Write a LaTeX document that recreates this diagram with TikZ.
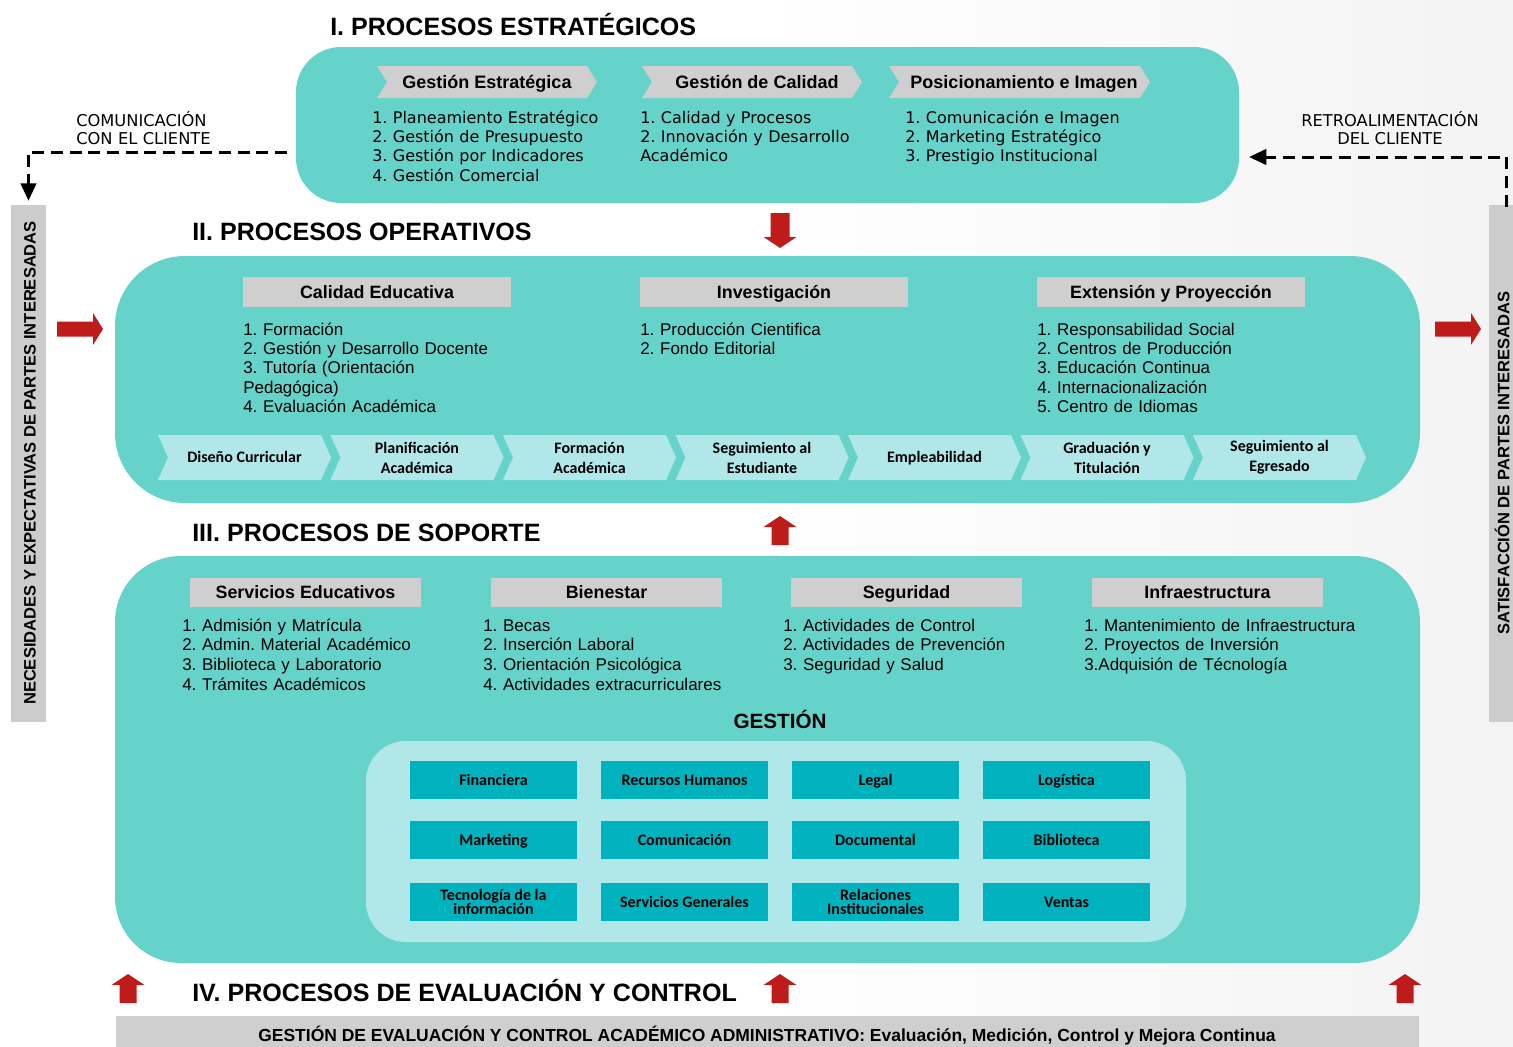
\documentclass[tikz,border=0pt]{standalone}
\usepackage{fontspec}
\setmainfont{Liberation Sans}
\newfontfamily\dvfont{DejaVu Sans}
\newfontfamily\cbfont{Carlito}
\usetikzlibrary{arrows.meta}
\frenchspacing
\definecolor{tealbox}{RGB}{102,211,202}
\definecolor{lightbox}{RGB}{177,231,233}
\definecolor{gridbox}{RGB}{0,178,189}
\definecolor{hdrgray}{RGB}{207,207,207}
\definecolor{sidegray}{RGB}{204,204,204}
\definecolor{arrred}{RGB}{190,27,27}
\definecolor{bgright}{RGB}{243,243,243}
\newcommand\fsz[2]{\fontsize{#1}{#2}\selectfont}
\newcommand\chevshape[6]{\fill[#6] (#1,#3) -- ({#2-#5},#3) -- (#2,{(#3+#4)/2}) -- ({#2-#5},#4) -- (#1,#4) -- ({#1+#5},{(#3+#4)/2}) -- cycle;}
\tikzset{
  sectitle/.style={anchor=base west, inner sep=0pt, font=\bfseries\fsz{18.8pt}{20pt}},
  procbox/.style={fill=tealbox, draw=none, inner sep=0pt},
  ophdr/.style={fill=hdrgray, inner sep=0pt, minimum width={268*0.75pt}, minimum height={30*0.75pt}, text height=11.6pt, text depth=2pt, font=\bfseries\fsz{13.4pt}{15pt}},
  suphdr/.style={ophdr, minimum width={231*0.75pt}, minimum height={29*0.75pt}},
  topchevtxt/.style={inner sep=0pt, text height=11.6pt, text depth=2pt, font=\bfseries\fsz{13.5pt}{15pt}},
  toplist/.style={anchor=base west, inner sep=0pt, text width=200pt, align=left, font=\dvfont\fsz{12pt}{14.6pt}},
  oplist/.style={anchor=base west, inner sep=0pt, text width=220pt, align=left, font=\fsz{12.75pt}{14.6pt}},
  suplist/.style={oplist, font=\fsz{12.75pt}{14.8pt}},
  chevtxt/.style={inner sep=0pt, align=center, font=\cbfont\bfseries\fsz{12pt}{15pt}},
  gridcell/.style={fill=gridbox, inner sep=0pt, minimum width={167*0.75pt}, minimum height={38*0.75pt}, align=center, font=\cbfont\bfseries\fsz{12pt}{10.5pt}},
  oneln/.style={text height=9.5pt, text depth=2pt},
  sidebar/.style={fill=sidegray, inner sep=0pt, minimum width={35*0.75pt}, minimum height={517*0.75pt}},
  sidetxt/.style={rotate=90, inner sep=0pt, font=\bfseries\fsz{12.4pt}{14pt}},
  clienttxt/.style={inner sep=0pt, text width=160pt, font=\dvfont\fsz{12.2pt}{13.5pt}},
  dasharr/.style={line width=2.25pt, dash pattern=on 9pt off 5pt, -{Triangle[length=13pt,width=11.5pt]}},
  redup/.pic={\fill[arrred] (-8.5,0) -- (-8.5,-18) -- (-16.5,-18) -- (0,-29) -- (16.5,-18) -- (8.5,-18) -- (8.5,0) -- cycle;},
  reddown/.pic={\fill[arrred] (-9.5,0) -- (9.5,0) -- (9.5,24) -- (16.5,24) -- (0,35) -- (-16.5,24) -- (-9.5,24) -- cycle;},
  redright/.pic={\fill[arrred] (0,-7.5) -- (36,-7.5) -- (36,-16) -- (46,0) -- (36,16) -- (36,7.5) -- (0,7.5) -- cycle;}
}
\begin{document}
\begin{tikzpicture}[x=0.75pt,y=-0.75pt]
\useasboundingbox (0,0) rectangle (1513,1046);
\fill[white] (0,0) rectangle (757,1046);
\shade[left color=white,right color=bgright] (756,0) rectangle (1513,1046);

% ---------- I
\node[sectitle] (t1) at (330,35) {I. PROCESOS ESTRATÉGICOS};
\node[procbox, rounded corners=33.75pt, minimum width={943*0.75pt}, minimum height={156*0.75pt}] (strat) at (767.5,125) {};
\chevshape{377}{597}{66}{98}{10}{hdrgray}
\node[topchevtxt] (ge) at (487,82) {Gestión Estratégica};
\chevshape{642}{862}{66}{98}{10}{hdrgray}
\node[topchevtxt] (gc) at (757,82) {Gestión de Calidad};
\chevshape{889}{1150}{66}{98}{10}{hdrgray}
\node[topchevtxt] (gp) at (1024,82) {Posicionamiento e Imagen};
\node[toplist] (l1) at (372,123) {1. Planeamiento Estratégico\\2. Gestión de Presupuesto\\3. Gestión por Indicadores\\4. Gestión Comercial};
\node[toplist] (l2) at (640,123) {1. Calidad y Procesos\\2. Innovación y Desarrollo\\Académico};
\node[toplist] (l3) at (905,123) {1. Comunicación e Imagen\\2. Marketing Estratégico\\3. Prestigio Institucional};

% ---------- client texts, side bars
\node[clienttxt, anchor=base west, align=left] (com) at (76,126) {COMUNICACIÓN\\CON EL CLIENTE};
\node[clienttxt, anchor=base, align=center] (retro) at (1390,126) {RETROALIMENTACIÓN\\DEL CLIENTE};
\node[sidebar] (needs) at (28.5,463.5) {};
\node[sidetxt] (needst) at (30,463) {NECESIDADES Y EXPECTATIVAS DE PARTES INTERESADAS};
\node[sidebar] (satis) at (1506.5,463.5) {};
\node[sidetxt] (satist) at (1502,463) {SATISFACCIÓN DE PARTES INTERESADAS};
\coordinate (comstart) at (287,152);
\draw[dasharr, shorten >=3pt] (comstart) -| (needs.north);
\coordinate (retroend) at (1249,157);
\draw[dasharr] ([yshift=-1.5pt]satis.north) |- (retroend);

% ---------- II
\pic at (780,213) {reddown};
\node[sectitle] (t2) at (192,240) {II. PROCESOS OPERATIVOS};
\node[procbox, rounded corners=52.5pt, minimum width={1305*0.75pt}, minimum height={247*0.75pt}] (oper) at (767.5,379.5) {};
\pic at (57,329) {redright};
\pic at (1435,329) {redright};
\node[ophdr] (h1) at (377,292) {Calidad Educativa};
\node[ophdr] (h2) at (774,292) {Investigación};
\node[ophdr] (h3) at (1171,292) {Extensión y Proyección};
\node[oplist] (ol1) at (243,335) {1. Formación\\2. Gestión y Desarrollo Docente\\3. Tutoría (Orientación\\Pedagógica)\\4. Evaluación Académica};
\node[oplist] (ol2) at (640,335) {1. Producción Cientifica\\2. Fondo Editorial};
\node[oplist] (ol3) at (1037,335) {1. Responsabilidad Social\\2. Centros de Producción\\3. Educación Continua\\4. Internacionalización\\5. Centro de Idiomas};
\foreach \t/\st [count=\i from 0] in {{Diseño Curricular}/oneln,{Planificación\\Académica}/{},{Formación\\Académica}/{},{Seguimiento al\\Estudiante}/{},{Empleabilidad}/oneln,{Graduación y\\Titulación}/{},{Seguimiento al\\Egresado}/{}}{
  \pgfmathsetmacro\xa{158+172.5*\i}
  \pgfmathsetmacro\xb{\xa+173}
  \chevshape{\xa}{\xb}{435}{480}{10}{lightbox}
  \node[chevtxt,\st] (pc\i) at ({\xa+86.5},457.5) {\t};
}

% ---------- III
\pic at (780,545) {redup};
\node[sectitle] (t3) at (192,541) {III. PROCESOS DE SOPORTE};
\node[procbox, rounded corners=49.5pt, minimum width={1305*0.75pt}, minimum height={407*0.75pt}] (sup) at (767.5,759.5) {};
\node[suphdr] (s1) at (305.5,592.5) {Servicios Educativos};
\node[suphdr] (s2) at (606.5,592.5) {Bienestar};
\node[suphdr] (s3) at (906.5,592.5) {Seguridad};
\node[suphdr] (s4) at (1207.5,592.5) {Infraestructura};
\node[suplist] (sl1) at (182,631) {1. Admisión y Matrícula\\2. Admin. Material Académico\\3. Biblioteca y Laboratorio\\4. Trámites Académicos};
\node[suplist] (sl2) at (483,631) {1. Becas\\2. Inserción Laboral\\3. Orientación Psicológica\\4. Actividades extracurriculares};
\node[suplist] (sl3) at (783,631) {1. Actividades de Control\\2. Actividades de Prevención\\3. Seguridad y Salud};
\node[suplist] (sl4) at (1084,631) {1. Mantenimiento de Infraestructura\\2. Proyectos de Inversión\\3.Adquisión de Técnología};
\node[inner sep=0pt, font=\bfseries\fsz{15.5pt}{17pt}] (gest) at (780,719) {GESTIÓN};
\node[fill=lightbox, rounded corners=30pt, minimum width={820*0.75pt}, minimum height={201*0.75pt}, inner sep=0pt] (gbox) at (776,841.5) {};
\node[gridcell,oneln] (g11) at (493.5,780) {Financiera};
\node[gridcell,oneln] (g12) at (684.5,780) {Recursos Humanos};
\node[gridcell,oneln] (g13) at (875.5,780) {Legal};
\node[gridcell,oneln] (g14) at (1066.5,780) {Logística};
\node[gridcell,oneln] (g21) at (493.5,840) {Marketing};
\node[gridcell,oneln] (g22) at (684.5,840) {Comunicación};
\node[gridcell,oneln] (g23) at (875.5,840) {Documental};
\node[gridcell,oneln] (g24) at (1066.5,840) {Biblioteca};
\node[gridcell] (g31) at (493.5,902) {Tecnología de la\\información};
\node[gridcell,oneln] (g32) at (684.5,902) {Servicios Generales};
\node[gridcell] (g33) at (875.5,902) {Relaciones\\Institucionales};
\node[gridcell,oneln] (g34) at (1066.5,902) {Ventas};

% ---------- IV
\pic at (128,1003) {redup};
\pic at (780,1003) {redup};
\pic at (1405,1003) {redup};
\node[sectitle] (t4) at (192,1001) {IV. PROCESOS DE EVALUACIÓN Y CONTROL};
\node[fill=hdrgray, minimum width={1303*0.75pt}, minimum height={40*0.75pt}, inner sep=0pt, anchor=north west] (evalbar) at (116,1016) {};
\node[inner sep=0pt, font=\bfseries\fsz{13.1pt}{15pt}] (evaltxt) at (767,1036) {GESTIÓN DE EVALUACIÓN Y CONTROL ACADÉMICO ADMINISTRATIVO: Evaluación, Medición, Control y Mejora Continua};
\end{tikzpicture}
\end{document}
